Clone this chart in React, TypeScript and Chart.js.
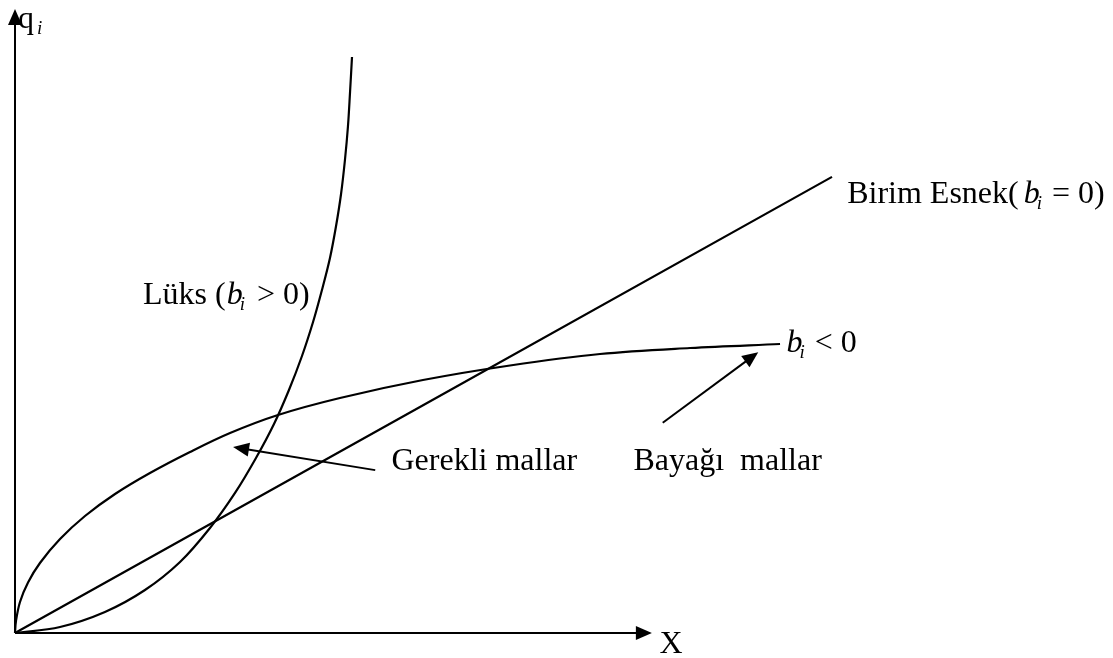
import React, { useEffect, useRef } from "react";
import { Chart, registerables } from "chart.js";

Chart.register(...registerables);

// ---- data (arbitrary units: x 0..100, y 0..100) ----
const luksX = [0, 4.15, 8.29, 11.98, 15.21, 17.97, 20.28, 22.21, 23.87, 25.25, 26.45, 27.47, 28.29, 29.03, 29.59, 30.05, 30.41, 30.69, 30.88, 31.06];
const luksY = [0, 0.96, 3.37, 6.89, 11.38, 16.83, 22.44, 28.04, 33.49, 38.94, 44.39, 49.84, 54.97, 60.1, 65.22, 70.35, 75.8, 81.25, 86.7, 92.31];

const unitX = [0, 75.3];
const unitY = [0, 73.1];

const inferiorX = [0, 0.09, 0.46, 1.2, 2.3, 4.15, 6.45, 9.22, 12.44, 16.13, 19.82, 24.24, 29.95, 37.6, 45.62, 53.92, 62.21, 70.51];
const inferiorY = [0, 1.92, 4.97, 8.09, 11.22, 15.06, 18.75, 22.28, 25.64, 29.01, 32.05, 34.94, 37.66, 40.54, 42.87, 44.71, 45.67, 46.31];

const xAxisTip = [58.7, 0];
const yAxisTip = [0, 100];

const arrowFrom = [[33.2, 26.1], [59.7, 33.7]];
const arrowTo = [[20.1, 29.8], [68.5, 45.0]];

const labelNames = ["birim", "luks", "neg", "gerekli", "bayagi", "x", "q"];
const labelPos = [
  [76.7, 68.9],
  [11.8, 52.7],
  [71.1, 45.0],
  [34.7, 26.1],
  [57.0, 26.1],
  [59.4, -3.2],
  [0.28, 97.0],
];

const SERIF = '"Liberation Serif", "Times New Roman", serif';
const N = (t: string) => ({ t, font: `32px ${SERIF}`, dy: 0 });
const I = (t: string) => ({ t, font: `italic 32px ${SERIF}`, dy: 0 });
const S = (t: string, dy = 6) => ({ t, font: `italic 19px ${SERIF}`, dy });
const G = (gap: number) => ({ gap });

const labelParts: Record<string, any[]> = {
  birim: [N("Birim Esnek("), G(5), I("b"), G(-3), S("i"), G(10), N("= 0)")],
  luks: [N("Lüks ("), G(1), I("b"), G(-3), S("i"), G(12), N("> 0)")],
  neg: [I("b"), G(-3), S("i"), G(10), N("< 0")],
  gerekli: [N("Gerekli mallar")],
  bayagi: [N("Bayağı  mallar")],
  x: [N("X")],
  q: [N("q"), G(3), S("i")],
};

const toPts = (xs: number[], ys: number[]) => xs.map((x, i) => ({ x, y: ys[i] }));

function drawArrowHead(ctx: CanvasRenderingContext2D, x1: number, y1: number, x2: number, y2: number, len = 16, half = 7) {
  const a = Math.atan2(y2 - y1, x2 - x1);
  const bx = x2 - len * Math.cos(a);
  const by = y2 - len * Math.sin(a);
  ctx.beginPath();
  ctx.moveTo(x2, y2);
  ctx.lineTo(bx + half * Math.sin(a), by - half * Math.cos(a));
  ctx.lineTo(bx - half * Math.sin(a), by + half * Math.cos(a));
  ctx.closePath();
  ctx.fill();
}

function drawArrow(ctx: CanvasRenderingContext2D, x1: number, y1: number, x2: number, y2: number) {
  const a = Math.atan2(y2 - y1, x2 - x1);
  ctx.beginPath();
  ctx.moveTo(x1, y1);
  ctx.lineTo(x2 - 12 * Math.cos(a), y2 - 12 * Math.sin(a));
  ctx.stroke();
  drawArrowHead(ctx, x1, y1, x2, y2);
}

function drawRich(ctx: CanvasRenderingContext2D, x: number, y: number, parts: any[]) {
  let cx = x;
  for (const p of parts) {
    if (p.gap !== undefined) {
      cx += p.gap;
      continue;
    }
    ctx.font = p.font;
    ctx.fillText(p.t, cx, y + p.dy);
    cx += ctx.measureText(p.t).width;
  }
}

const overlay = {
  id: "overlay",
  afterDatasetsDraw(chart: any) {
    const { ctx, scales } = chart;
    const px = (v: number) => scales.x.getPixelForValue(v);
    const py = (v: number) => scales.y.getPixelForValue(v);
    ctx.save();
    ctx.strokeStyle = "#000";
    ctx.fillStyle = "#000";
    ctx.lineWidth = 2;
    ctx.lineCap = "butt";
    const ox = px(0), oy = py(0);
    drawArrow(ctx, ox, oy, px(xAxisTip[0]), py(xAxisTip[1]));
    drawArrow(ctx, ox, oy, px(yAxisTip[0]), py(yAxisTip[1]));
    arrowFrom.forEach((f, i) => {
      drawArrow(ctx, px(f[0]), py(f[1]), px(arrowTo[i][0]), py(arrowTo[i][1]));
    });
    ctx.textBaseline = "alphabetic";
    ctx.textAlign = "left";
    labelNames.forEach((n, i) => {
      drawRich(ctx, px(labelPos[i][0]), py(labelPos[i][1]), labelParts[n]);
    });
    ctx.restore();
  },
};

export default function App() {
  const ref = useRef<HTMLCanvasElement | null>(null);
  useEffect(() => {
    if (!ref.current) return;
    const line = (data: any[]) => ({
      data,
      showLine: true,
      borderColor: "#000",
      borderWidth: 2.2,
      pointRadius: 0,
      fill: false,
      tension: 0.35,
      clip: false as any,
    });
    const chart = new Chart(ref.current, {
      type: "scatter",
      data: {
        datasets: [
          line(toPts(luksX, luksY)),
          line(toPts(unitX, unitY)),
          line(toPts(inferiorX, inferiorY)),
        ],
      },
      options: {
        animation: false,
        responsive: true,
        maintainAspectRatio: false,
        layout: { padding: { left: 15, top: 9, right: 13, bottom: 25 } },
        scales: {
          x: { type: "linear", min: 0, max: 100, display: false },
          y: { type: "linear", min: 0, max: 100, display: false },
        },
        plugins: { legend: { display: false }, tooltip: { enabled: false } },
      },
      plugins: [overlay],
    });
    return () => chart.destroy();
  }, []);
  return (
    <div style={{ position: "fixed", left: 0, top: 0, width: 1113, height: 658, background: "#fff" }}>
      <canvas ref={ref} />
    </div>
  );
}
